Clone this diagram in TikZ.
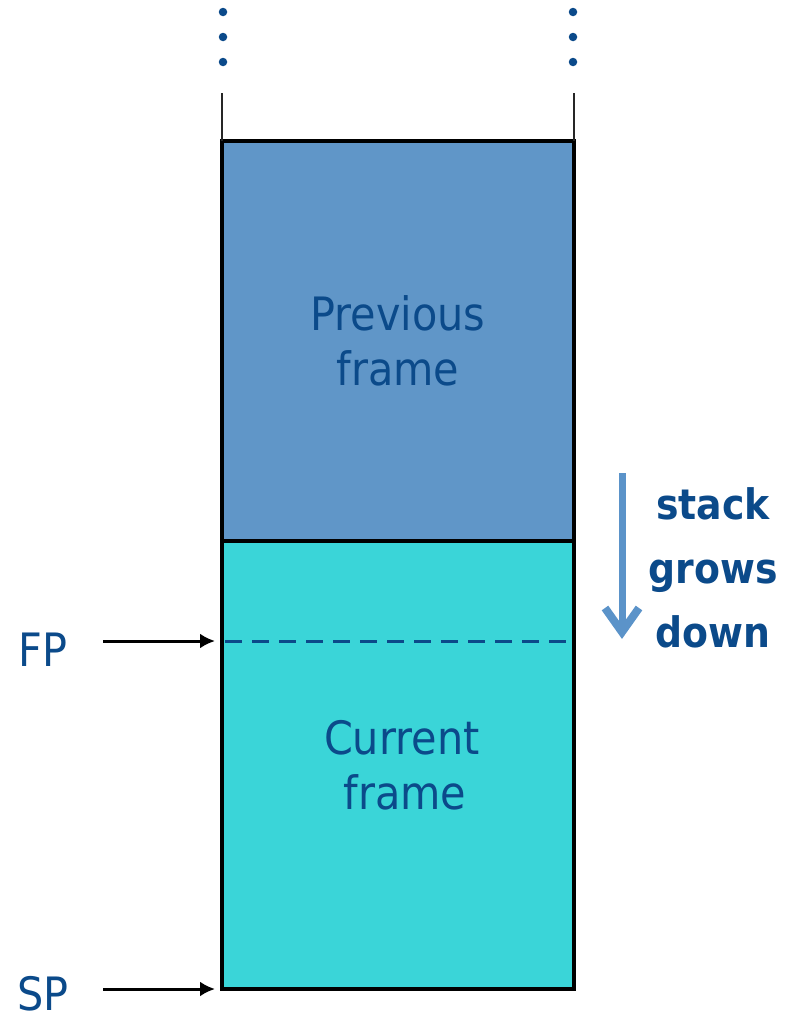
\documentclass[tikz,border=0pt]{standalone}
\usepackage{fontspec}
\setmainfont{DejaVu Sans}
\newfontfamily\tah[FakeStretch=0.9]{DejaVu Sans}
\usetikzlibrary{arrows.meta}
\definecolor{txtblue}{HTML}{0B4A8A}
\definecolor{prevfill}{HTML}{6096C8}
\definecolor{curfill}{HTML}{3AD5D8}
\definecolor{growblue}{HTML}{5B93C9}
\tikzset{
  frame/.style={draw=black, line width=3.2pt, anchor=north west, minimum width=352pt, inner sep=0pt,
    outer sep=0pt, text=txtblue, font=\tah\fontsize{46}{55}\selectfont, align=center},
  dotnode/.style={circle, fill=txtblue, minimum size=8.5pt, inner sep=0pt},
  ptrlabel/.style={text=txtblue, font=\tah\fontsize{46}{55}\selectfont, inner sep=0pt},
  ptrarrow/.style={line width=3pt, -{Latex[length=15pt,width=15pt]}, shorten >=7pt},
  sideline/.style={line width=2.8pt, draw=black!85}
}
\begin{document}
\begin{tikzpicture}[x=1pt,y=-1pt]
\useasboundingbox (0,0) rectangle (794,1017);
% frames
\node[frame, fill=prevfill, minimum height=400pt] (prev) at (222,141) {Previous\\frame};
\node[frame, fill=curfill, minimum height=448pt] (cur) at (222,541) {\,Current\\\hspace*{14pt}frame};
% side lines above
\coordinate (tl) at (222,93);
\coordinate (tr) at (574,93);
\draw[sideline] (tl) -- (prev.north west);
\draw[sideline] (tr) -- (prev.north east);
% dots
\foreach \i/\y in {1/12,2/37,3/62}{
  \node[dotnode] (dl\i) at (223,\y) {};
  \node[dotnode] (dr\i) at (573,\y) {};
}
% FP dashed line
\coordinate (fpL) at (222,641);
\coordinate (fpR) at (574,641);
\draw[txtblue, line width=3pt, dash pattern=on 17pt off 10pt, dash phase=-3pt] (fpL) -- (fpR);
% pointers
\node[ptrlabel, anchor=west] (fp) at (18,650) {FP};
\node[ptrlabel, anchor=west] (sp) at (17,994) {SP};
\coordinate (fpa) at (103,641);
\coordinate (spa) at (103,989);
\draw[ptrarrow] (fpa) -- (fpL);
\draw[ptrarrow] (spa) -- (cur.south west);
% stack grows down
\coordinate (ga) at (622,473);
\coordinate (gb) at (622,632);
\draw[growblue, line width=7pt] (ga) -- (gb);
\draw[growblue, line width=8pt, line join=miter, miter limit=10] ([xshift=-17pt,yshift=24pt]gb) -- (gb) -- ([xshift=17pt,yshift=24pt]gb);
\node[text=txtblue, font=\tah\bfseries\fontsize{42}{64}\selectfont, align=center, anchor=center] (grow) at (713,568) {stack\\grows\\down};
\end{tikzpicture}
\end{document}
